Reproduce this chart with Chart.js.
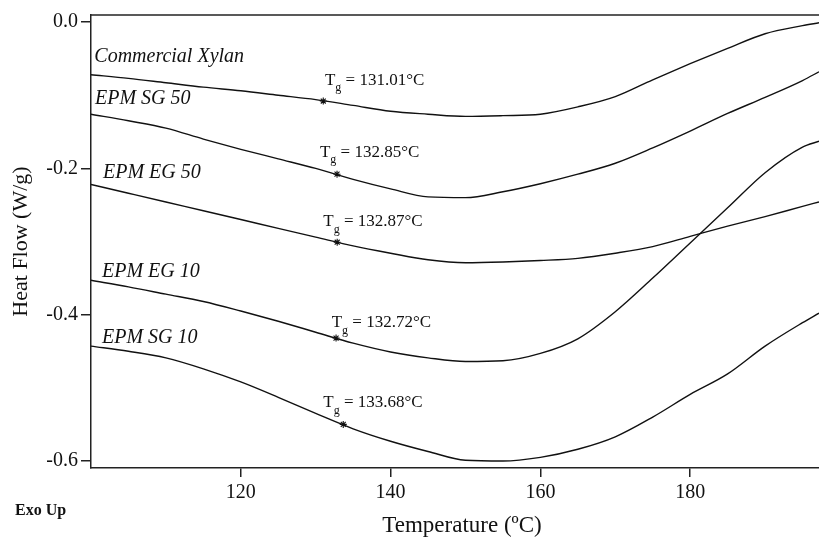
<!DOCTYPE html>
<html>
<head>
<meta charset="utf-8">
<script src="https://cdn.jsdelivr.net/npm/chart.js@4.4.1/dist/chart.umd.min.js"></script>
<style>
  html, body { margin: 0; padding: 0; background: #fff; }
  canvas { display: block; }
</style>
</head>
<body>
<canvas id="dscChart" width="819" height="540"></canvas>
<script>
// DSC heat flow curves (W/g) against temperature (°C)
const temps = [100, 105, 110, 115, 120, 125, 130, 135, 140, 145, 150, 155, 160, 165, 170, 175, 180, 185, 190, 195, 197.2];

const commercialXylan = [-0.072, -0.077, -0.083, -0.089, -0.094, -0.100, -0.106, -0.114, -0.122, -0.126, -0.129, -0.128, -0.126, -0.116, -0.102, -0.079, -0.057, -0.036, -0.016, -0.005, -0.001];
const epmSG50 = [-0.126, -0.135, -0.145, -0.160, -0.174, -0.187, -0.200, -0.215, -0.228, -0.239, -0.240, -0.232, -0.221, -0.208, -0.193, -0.172, -0.149, -0.125, -0.103, -0.080, -0.068];
const epmEG50 = [-0.222, -0.234, -0.246, -0.258, -0.270, -0.282, -0.294, -0.306, -0.316, -0.325, -0.329, -0.328, -0.326, -0.323, -0.316, -0.307, -0.293, -0.279, -0.266, -0.252, -0.246];
const epmEG10 = [-0.353, -0.362, -0.372, -0.382, -0.395, -0.409, -0.424, -0.439, -0.451, -0.459, -0.464, -0.463, -0.453, -0.433, -0.396, -0.350, -0.302, -0.254, -0.206, -0.171, -0.163];
const epmSG10 = [-0.443, -0.450, -0.459, -0.474, -0.492, -0.513, -0.535, -0.556, -0.573, -0.587, -0.599, -0.600, -0.595, -0.584, -0.567, -0.540, -0.509, -0.481, -0.443, -0.411, -0.398];

const seriesNames = ['Commercial Xylan', 'EPM SG 50', 'EPM EG 50', 'EPM EG 10', 'EPM SG 10'];
const seriesValues = [commercialXylan, epmSG50, epmEG50, epmEG10, epmSG10];

// glass transition points (temperature, heat flow on the curve)
const tgValues = [131.01, 132.85, 132.87, 132.72, 133.68];
const tgHeatFlow = [-0.108, -0.208, -0.301, -0.432, -0.550];

const xTicks = [120, 140, 160, 180];
const yTicks = [0, -0.2, -0.4, -0.6];

// where the curve names and Tg notes sit (axis units)
const nameAnchorT = [100.44, 100.53, 101.6, 101.47, 101.47];
const nameAnchorHF = [-0.0474, -0.1052, -0.2054, -0.3407, -0.4319];
const tgNoteT = [131.24, 130.57, 131.01, 132.14, 131.01];
const tgNoteHF = [-0.0797, -0.1779, -0.2729, -0.4110, -0.5203];

const serif = '"Liberation Serif", "Times New Roman", serif';
const ink = '#111';
const axisColor = '#222';

const curveSets = seriesValues.map((vals, i) => ({
    label: seriesNames[i],
    data: temps.map((t, j) => ({ x: t, y: vals[j] })),
    borderColor: ink,
    borderWidth: 1.4,
    pointRadius: 0,
    fill: false,
    cubicInterpolationMode: 'monotone'
}));

const tgSet = {
    label: 'Tg',
    data: tgValues.map((t, i) => ({ x: t, y: tgHeatFlow[i] })),
    showLine: false,
    pointStyle: 'star',
    pointRadius: 3.5,
    borderWidth: 1.1,
    borderColor: ink,
    backgroundColor: ink
};

// text notes, top frame line and the "Exo Up" marker
const notes = {
    id: 'notes',
    afterDraw(chart) {
        const { ctx, chartArea, scales: { x, y } } = chart;
        ctx.save();
        ctx.strokeStyle = axisColor;
        ctx.lineWidth = 1.5;
        ctx.beginPath();
        ctx.moveTo(chartArea.left, chartArea.top);
        ctx.lineTo(chartArea.right, chartArea.top);
        ctx.stroke();

        ctx.fillStyle = ink;
        ctx.textBaseline = 'middle';
        ctx.textAlign = 'left';
        ctx.font = 'italic 20px ' + serif;
        seriesNames.forEach((n, i) => {
            ctx.fillText(n, x.getPixelForValue(nameAnchorT[i]), y.getPixelForValue(nameAnchorHF[i]));
        });

        tgValues.forEach((tg, i) => {
            let px = x.getPixelForValue(tgNoteT[i]);
            const py = y.getPixelForValue(tgNoteHF[i]);
            ctx.font = '17px ' + serif;
            ctx.fillText('T', px, py);
            px += ctx.measureText('T').width;
            ctx.font = '12px ' + serif;
            ctx.fillText('g', px, py + 8);
            px += ctx.measureText('g').width;
            ctx.font = '17px ' + serif;
            ctx.fillText(' = ' + tg.toFixed(2) + '°C', px, py);
        });

        ctx.font = 'bold 16px ' + serif;
        ctx.fillText('Exo Up', 15, 511);

        // axis title drawn here so it can sit a little right of centre
        ctx.textAlign = 'center';
        ctx.font = '23px ' + serif;
        ctx.fillText('Temperature (ºC)', 462, 526);
        ctx.restore();
    }
};

new Chart(document.getElementById('dscChart'), {
    type: 'line',
    data: { datasets: [...curveSets, tgSet] },
    options: {
        responsive: false,
        animation: false,
        layout: { autoPadding: false, padding: { top: 15, right: 0, bottom: 0, left: 0 } },
        plugins: { legend: { display: false }, tooltip: { enabled: false } },
        scales: {
            x: {
                type: 'linear',
                min: 100,
                max: 197.2,
                afterBuildTicks: (s) => { s.ticks = xTicks.map(v => ({ value: v })); },
                afterFit: (s) => { s.height = 72; },
                grid: { drawOnChartArea: false, tickLength: 9, color: axisColor, lineWidth: 1.5 },
                border: { color: axisColor, width: 1.5 },
                ticks: { font: { family: serif, size: 20 }, color: ink, padding: 4, maxRotation: 0 }
            },
            y: {
                min: -0.6096,
                max: 0.0096,
                afterBuildTicks: (s) => { s.ticks = yTicks.map(v => ({ value: v })); },
                afterFit: (s) => { s.width = 91; },
                grid: { drawOnChartArea: false, tickLength: 10, color: axisColor, lineWidth: 1.5 },
                border: { color: axisColor, width: 1.5 },
                ticks: { font: { family: serif, size: 20 }, color: ink, padding: 3, callback: (v) => v.toFixed(1) },
                title: {
                    display: true, text: 'Heat Flow (W/g)', color: ink,
                    font: { family: serif, size: 22 }, padding: { top: 8, bottom: 0 }
                }
            }
        }
    },
    plugins: [notes]
});
</script>
</body>
</html>
